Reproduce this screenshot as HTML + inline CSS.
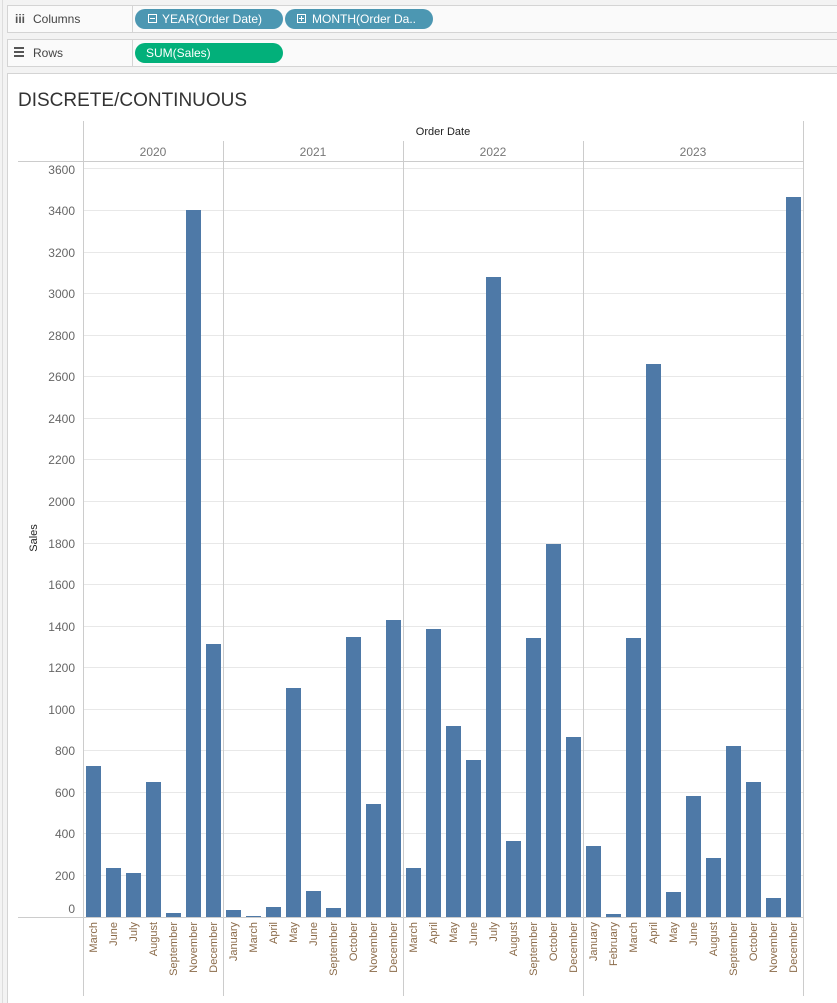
<!DOCTYPE html>
<html><head><meta charset="utf-8"><style>
body{margin:0;background:#f3f3f3;font-family:"Liberation Sans",sans-serif;}
svg{display:block}
</style></head><body>
<svg width="837" height="1003" viewBox="0 0 837 1003" xmlns="http://www.w3.org/2000/svg" font-family="Liberation Sans, sans-serif">
<rect x="0" y="0" width="837" height="1003" fill="#f3f3f3"/>
<line x1="2.5" y1="0" x2="2.5" y2="1003" stroke="#ddd"/>
<!-- shelves -->
<rect x="7.5" y="5.5" width="830" height="27" fill="#fafafa" stroke="#d4d4d4"/>
<line x1="132.5" y1="5" x2="132.5" y2="33" stroke="#d4d4d4"/>
<rect x="7.5" y="39.5" width="830" height="27" fill="#fafafa" stroke="#d4d4d4"/>
<line x1="132.5" y1="39" x2="132.5" y2="67" stroke="#d4d4d4"/>
<text x="15" y="23" font-size="12" font-weight="bold" fill="#555">iii</text>
<text x="33" y="23" font-size="12" fill="#444">Columns</text>
<g fill="#555"><rect x="14" y="47" width="10" height="2"/><rect x="14" y="51" width="10" height="2"/><rect x="14" y="55" width="10" height="2"/></g>
<text x="33" y="57" font-size="12" fill="#444">Rows</text>
<rect x="135" y="9" width="148" height="20" rx="10" fill="#4c97b2"/>
<rect x="148.5" y="14.5" width="8" height="8" fill="none" stroke="#fff"/><line x1="150" y1="18.5" x2="155" y2="18.5" stroke="#fff"/>
<text x="162" y="23" font-size="12" fill="#fff">YEAR(Order Date)</text>
<rect x="285" y="9" width="148" height="20" rx="10" fill="#4c97b2"/>
<rect x="297.5" y="14.5" width="8" height="8" fill="none" stroke="#fff"/><line x1="299" y1="18.5" x2="304" y2="18.5" stroke="#fff"/><line x1="301.5" y1="16" x2="301.5" y2="21" stroke="#fff"/>
<text x="312" y="23" font-size="12" fill="#fff">MONTH(Order Da..</text>
<rect x="135" y="43" width="148" height="20" rx="10" fill="#02b07a"/>
<text x="146" y="57" font-size="12" fill="#fff">SUM(Sales)</text>
<!-- card -->
<rect x="7.5" y="73.5" width="830" height="940" fill="#fff" stroke="#d4d4d4"/>
<text x="18" y="106" font-size="19" fill="#333">DISCRETE/CONTINUOUS</text>
<!-- header -->
<text x="443" y="135" font-size="11" fill="#222" text-anchor="middle">Order Date</text>
<g font-size="12" fill="#777" text-anchor="middle">
<text x="153" y="156">2020</text><text x="313" y="156">2021</text><text x="493" y="156">2022</text><text x="693" y="156">2023</text>
</g>
<g stroke="#e8e8e8">
<line x1="83" y1="875.5" x2="803" y2="875.5"/><line x1="83" y1="833.5" x2="803" y2="833.5"/><line x1="83" y1="792.5" x2="803" y2="792.5"/><line x1="83" y1="750.5" x2="803" y2="750.5"/><line x1="83" y1="709.5" x2="803" y2="709.5"/><line x1="83" y1="667.5" x2="803" y2="667.5"/><line x1="83" y1="626.5" x2="803" y2="626.5"/><line x1="83" y1="584.5" x2="803" y2="584.5"/><line x1="83" y1="543.5" x2="803" y2="543.5"/><line x1="83" y1="501.5" x2="803" y2="501.5"/><line x1="83" y1="459.5" x2="803" y2="459.5"/><line x1="83" y1="418.5" x2="803" y2="418.5"/><line x1="83" y1="376.5" x2="803" y2="376.5"/><line x1="83" y1="335.5" x2="803" y2="335.5"/><line x1="83" y1="293.5" x2="803" y2="293.5"/><line x1="83" y1="252.5" x2="803" y2="252.5"/><line x1="83" y1="210.5" x2="803" y2="210.5"/><line x1="83" y1="168.5" x2="803" y2="168.5"/>
</g>
<g font-size="12" fill="#666" text-anchor="end">
<text x="75" y="913">0</text><text x="75" y="880">200</text><text x="75" y="838">400</text><text x="75" y="797">600</text><text x="75" y="755">800</text><text x="75" y="714">1000</text><text x="75" y="672">1200</text><text x="75" y="631">1400</text><text x="75" y="589">1600</text><text x="75" y="548">1800</text><text x="75" y="506">2000</text><text x="75" y="464">2200</text><text x="75" y="423">2400</text><text x="75" y="381">2600</text><text x="75" y="340">2800</text><text x="75" y="298">3000</text><text x="75" y="257">3200</text><text x="75" y="215">3400</text><text x="75" y="174">3600</text>
</g>
<text transform="translate(37,538) rotate(-90)" font-size="11" fill="#222" text-anchor="middle">Sales</text>
<g fill="#4e79a7">
<rect x="86" y="766" width="15" height="151"/><rect x="106" y="868" width="15" height="49"/><rect x="126" y="873" width="15" height="44"/><rect x="146" y="782" width="15" height="135"/><rect x="166" y="913" width="15" height="4"/><rect x="186" y="210" width="15" height="707"/><rect x="206" y="644" width="15" height="273"/>
<rect x="226" y="910" width="15" height="7"/><rect x="246" y="916" width="15" height="1"/><rect x="266" y="907" width="15" height="10"/><rect x="286" y="688" width="15" height="229"/><rect x="306" y="891" width="15" height="26"/><rect x="326" y="908" width="15" height="9"/><rect x="346" y="637" width="15" height="280"/><rect x="366" y="804" width="15" height="113"/><rect x="386" y="620" width="15" height="297"/>
<rect x="406" y="868" width="15" height="49"/><rect x="426" y="629" width="15" height="288"/><rect x="446" y="726" width="15" height="191"/><rect x="466" y="760" width="15" height="157"/><rect x="486" y="277" width="15" height="640"/><rect x="506" y="841" width="15" height="76"/><rect x="526" y="638" width="15" height="279"/><rect x="546" y="544" width="15" height="373"/><rect x="566" y="737" width="15" height="180"/>
<rect x="586" y="846" width="15" height="71"/><rect x="606" y="914" width="15" height="3"/><rect x="626" y="638" width="15" height="279"/><rect x="646" y="364" width="15" height="553"/><rect x="666" y="892" width="15" height="25"/><rect x="686" y="796" width="15" height="121"/><rect x="706" y="858" width="15" height="59"/><rect x="726" y="746" width="15" height="171"/><rect x="746" y="782" width="15" height="135"/><rect x="766" y="898" width="15" height="19"/><rect x="786" y="197" width="15" height="720"/>
</g>
<g stroke="#ccc">
<line x1="18" y1="161.5" x2="803" y2="161.5"/>
<line x1="18" y1="917.5" x2="803" y2="917.5"/>
<line x1="83.5" y1="121" x2="83.5" y2="996"/>
<line x1="223.5" y1="141" x2="223.5" y2="996"/>
<line x1="403.5" y1="141" x2="403.5" y2="996"/>
<line x1="583.5" y1="141" x2="583.5" y2="996"/>
<line x1="803.5" y1="121" x2="803.5" y2="996"/>
</g>
<g font-size="11" fill="#8b6b4a" text-anchor="end">
<text transform="translate(97,922) rotate(-90)">March</text><text transform="translate(117,922) rotate(-90)">June</text><text transform="translate(137,922) rotate(-90)">July</text><text transform="translate(157,922) rotate(-90)">August</text><text transform="translate(177,922) rotate(-90)">September</text><text transform="translate(197,922) rotate(-90)">November</text><text transform="translate(217,922) rotate(-90)">December</text>
<text transform="translate(237,922) rotate(-90)">January</text><text transform="translate(257,922) rotate(-90)">March</text><text transform="translate(277,922) rotate(-90)">April</text><text transform="translate(297,922) rotate(-90)">May</text><text transform="translate(317,922) rotate(-90)">June</text><text transform="translate(337,922) rotate(-90)">September</text><text transform="translate(357,922) rotate(-90)">October</text><text transform="translate(377,922) rotate(-90)">November</text><text transform="translate(397,922) rotate(-90)">December</text>
<text transform="translate(417,922) rotate(-90)">March</text><text transform="translate(437,922) rotate(-90)">April</text><text transform="translate(457,922) rotate(-90)">May</text><text transform="translate(477,922) rotate(-90)">June</text><text transform="translate(497,922) rotate(-90)">July</text><text transform="translate(517,922) rotate(-90)">August</text><text transform="translate(537,922) rotate(-90)">September</text><text transform="translate(557,922) rotate(-90)">October</text><text transform="translate(577,922) rotate(-90)">December</text>
<text transform="translate(597,922) rotate(-90)">January</text><text transform="translate(617,922) rotate(-90)">February</text><text transform="translate(637,922) rotate(-90)">March</text><text transform="translate(657,922) rotate(-90)">April</text><text transform="translate(677,922) rotate(-90)">May</text><text transform="translate(697,922) rotate(-90)">June</text><text transform="translate(717,922) rotate(-90)">August</text><text transform="translate(737,922) rotate(-90)">September</text><text transform="translate(757,922) rotate(-90)">October</text><text transform="translate(777,922) rotate(-90)">November</text><text transform="translate(797,922) rotate(-90)">December</text>
</g>
</svg>
</body></html>
